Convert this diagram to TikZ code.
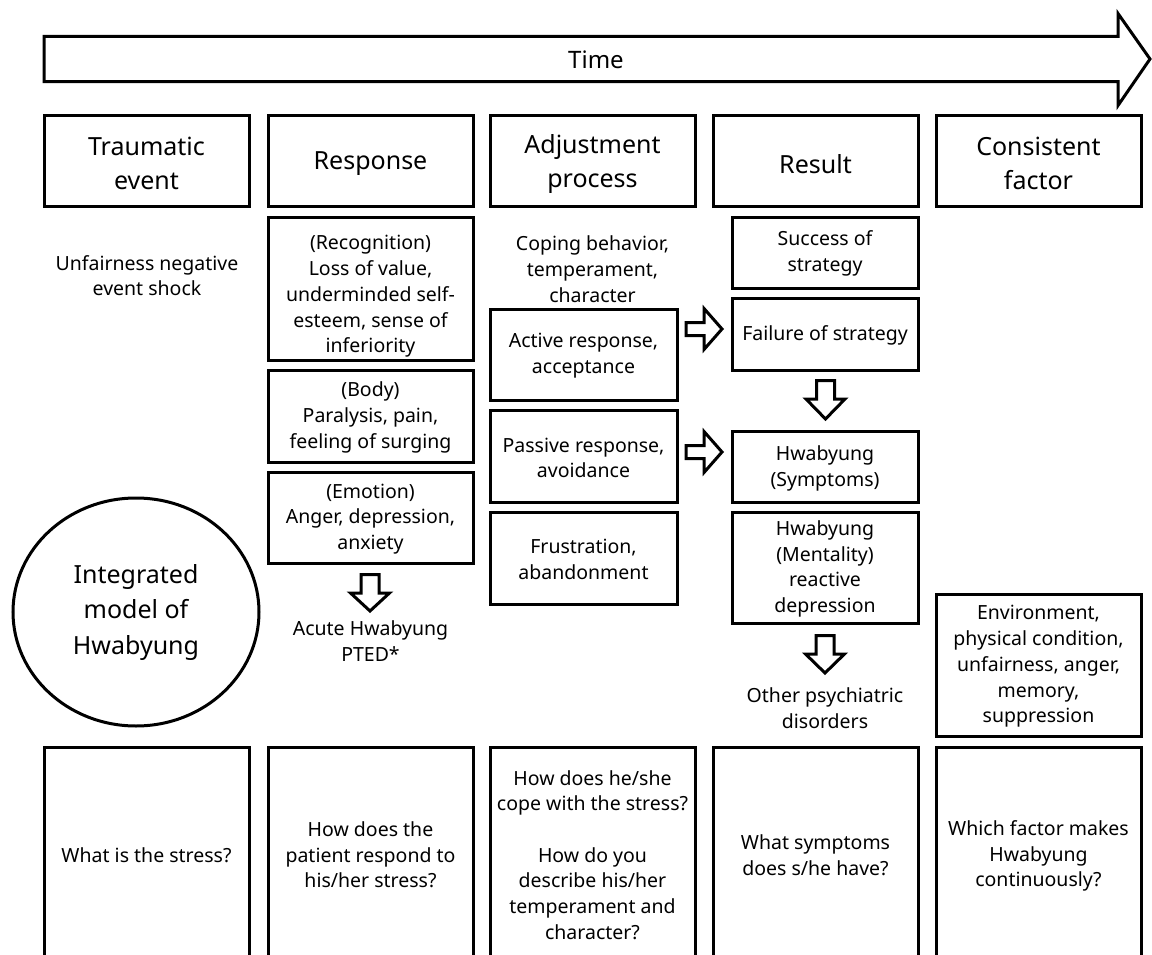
\documentclass[tikz,border=0pt]{standalone}
\usepackage{fontspec}
\setmainfont{Noto Sans}
\newcommand\mkbox[5]{\node[bx, minimum width={(#4-#2)*1pt}, minimum height={(#5-#3)*1pt}] (#1) at ({(#2+#4)/2},{(#3+#5)/2}) {};}
\begin{document}
\begin{tikzpicture}[x=1pt,y=-1pt,
  bx/.style={draw, line width=3pt, inner sep=0pt},
  txt/.style={align=center, inner sep=0pt, font=\fontsize{19.5}{25.7}\selectfont},
  hd/.style={align=center, inner sep=0pt, font=\fontsize{25}{34}\selectfont},
  blk/.style={draw, line width=3pt, line join=miter, fill=white}]
\useasboundingbox (0,0) rectangle (1152,955);
\clip (0,0) rectangle (1152,955);

% time arrow
\draw[blk] (44,36.5) -- (1118,36.5) -- (1118,13.5) -- (1150,59) -- (1118,105.5) -- (1118,81.7) -- (44,81.7) -- cycle;
\node[inner sep=0pt, font=\fontsize{24}{28}\selectfont] (time) at (596,60) {Time};

% headers
\mkbox{h1}{44}{115.5}{249}{206.7}
\mkbox{h2}{268}{115.5}{473}{206.7}
\mkbox{h3}{490}{115.5}{695}{206.7}
\mkbox{h4}{713}{115.5}{918}{206.7}
\mkbox{h5}{936}{115.5}{1141}{206.7}
\node[hd] (h1t) at (146.5,163) {Traumatic\\event};
\node[hd] (h2t) at (370.5,164) {Response};
\node[hd] (h3t) at (592.5,164) {Adjustment\\process};
\node[hd] (h4t) at (815.5,164) {Result};
\node[hd] (h5t) at (1038.5,163) {Consistent\\factor};

% traumatic column
\node[txt] (unf) at (147,275.5) {Unfairness negative\\event shock};
\draw[line width=3pt] (136,612) ellipse [x radius=123, y radius=114];
\node[hd, font=\fontsize{25}{35.5}\selectfont] (circ) at (136,612) {Integrated\\model of\\Hwabyung};

% response column
\mkbox{rec}{268}{217}{473}{360}
\mkbox{bod}{268}{370}{473}{462}
\mkbox{emo}{268}{472}{473}{563}
\node[txt] (rect) at (370.5,296.5) {(Recognition)\\Loss of value,\\underminded self-\\esteem, sense of\\inferiority};
\node[txt] (bodt) at (370.5,417.5) {(Body)\\Paralysis, pain,\\feeling of surging};
\node[txt] (emot) at (370.5,519) {(Emotion)\\Anger, depression,\\anxiety};
\draw[blk] (361,574.5) -- (361,593) -- (350.5,593) -- (370,611) -- (389.5,593) -- (379,593) -- (379,574.5) -- cycle;
\node[txt] (acute) at (370.5,641) {Acute Hwabyung\\PTED*};

% adjustment column
\node[txt] (cop) at (592.5,269) {Coping behavior,\\temperament,\\character};
\mkbox{act}{490}{309}{677}{400}
\mkbox{pas}{490}{410}{677}{502}
\mkbox{fru}{490}{512}{677}{604}
\node[txt] (actt) at (583.5,356) {Active response,\\acceptance};
\node[txt] (past) at (583.5,458) {Passive response,\\avoidance};
\node[txt] (frut) at (583.5,559.5) {Frustration,\\abandonment};
\draw[blk] (686,322.5) -- (704,322.5) -- (704,308.5) -- (722,329) -- (704,349.5) -- (704,335.5) -- (686,335.5) -- cycle;
\draw[blk] (686,445.5) -- (704,445.5) -- (704,431.5) -- (722,452) -- (704,472.5) -- (704,458.5) -- (686,458.5) -- cycle;

% result column
\mkbox{suc}{732}{217}{918}{288}
\mkbox{fai}{732}{298}{918}{370}
\mkbox{sym}{732}{431}{918}{502}
\mkbox{men}{732}{512}{918}{623}
\node[txt] (suct) at (825,253.5) {Success of\\strategy};
\node[txt] (fait) at (825,335) {Failure of strategy};
\node[txt] (symt) at (825,468.5) {Hwabyung\\(Symptoms)};
\node[txt] (ment) at (825,569) {Hwabyung\\(Mentality)\\reactive\\depression};
\draw[blk] (816.5,380.5) -- (816.5,399) -- (806,399) -- (825.5,419) -- (845,399) -- (834.5,399) -- (834.5,380.5) -- cycle;
\draw[blk] (816,635.5) -- (816,654) -- (805.5,654) -- (825,673) -- (844.5,654) -- (834,654) -- (834,635.5) -- cycle;
\node[txt] (oth) at (825,708) {Other psychiatric\\disorders};

% consistent column
\mkbox{env}{936}{594}{1141}{736}
\node[txt] (envt) at (1038.5,666.5) {Environment,\\physical condition,\\unfairness, anger,\\memory,\\suppression};

% bottom boxes
\mkbox{b1}{44}{747}{249}{1000}
\mkbox{b2}{268}{747}{473}{1000}
\mkbox{b3}{490}{747}{695}{1000}
\mkbox{b4}{713}{747}{918}{1000}
\mkbox{b5}{936}{747}{1141}{1000}
\node[txt] (b1t) at (146.5,855) {What is the stress?};
\node[txt] (b2t) at (370.5,855) {How does the\\patient respond to\\his/her stress?};
\node[txt] (b3t) at (592.5,855) {How does he/she\\cope with the stress?\\[25.7pt]How do you\\describe his/her\\temperament and\\character?};
\node[txt] (b4t) at (815.5,855.5) {What symptoms\\does s/he have?};
\node[txt] (b5t) at (1038.5,856) {Which factor makes\\Hwabyung\\continuously?};
\end{tikzpicture}
\end{document}
